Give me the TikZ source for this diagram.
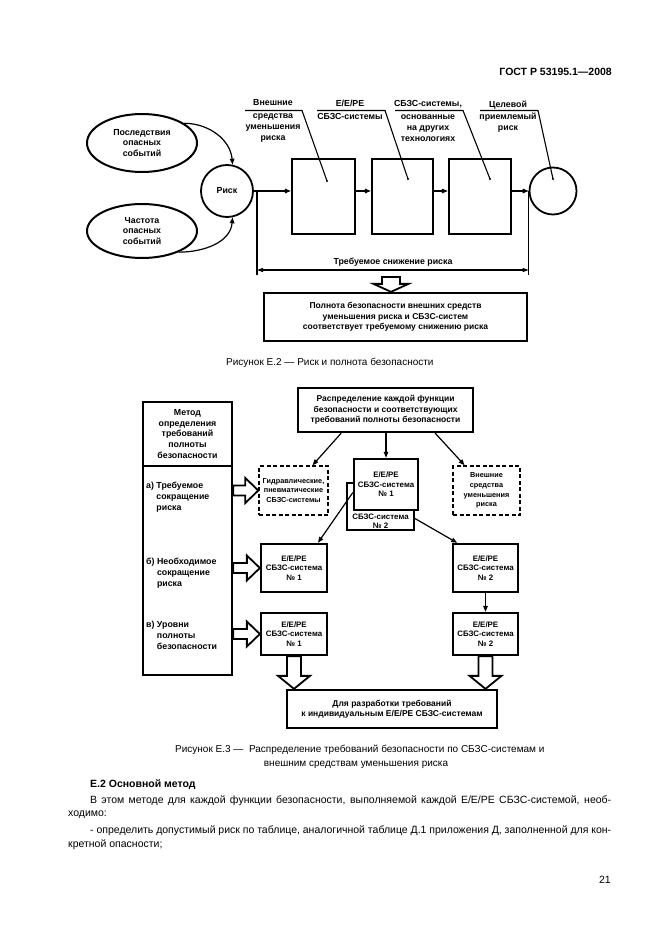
\documentclass[tikz,border=0pt]{standalone}
\usepackage{fontspec}
\setmainfont{Liberation Sans}
\usetikzlibrary{arrows.meta,shapes.geometric,calc}
\newcommand\fs[2]{\fontsize{#1}{#2}\selectfont}
\begin{document}
\begin{tikzpicture}[x=1pt,y=-1pt,
  lw/.style={line width=1.1},
  thk/.style={draw, line width=2.3},
  bx/.style={thk, inner sep=0, align=center, font=\bfseries\fs{8.5}{10.5}},
  sbx/.style={thk, inner sep=0, align=center, font=\bfseries\fs{7.9}{9.6}},
  dbx/.style={draw, line width=1.4, dash pattern=on 4pt off 2.5pt, inner sep=0, align=center, font=\bfseries\fs{7.3}{9.7}},
  lbl/.style={inner sep=0, align=center, font=\bfseries\fs{8.8}{10.8}},
  arr/.style={line width=1.2, -{Triangle[length=6pt,width=4.5pt]}},
  hollow/.style={draw, fill=white, line width=1.8, line join=miter},
  captxt/.style={inner sep=0, font=\fs{10}{12}},
  body/.style={inner sep=0, font=\fs{10.5}{13}},
  bodyb/.style={inner sep=0, font=\bfseries\fs{10.5}{13}},
]
\useasboundingbox (0,0) rectangle (661,936);
\fill[white] (0,0) rectangle (661,936);

% header
\node[bodyb, anchor=east] (hdr) at (612,72) {ГОСТ Р 53195.1—2008};

% ===== Figure E.2 =====
\node[draw, line width=2, ellipse, minimum width=110, minimum height=58, lbl] (e1) at (142,143) {Последствия\\опасных\\событий};
\node[draw, line width=2, ellipse, minimum width=110, minimum height=54, lbl] (e2) at (142,231) {Частота\\опасных\\событий};
\node[draw, circle, line width=1.8, minimum size=52, lbl] (risk) at (227,191) {Риск};
\node[thk, minimum width=63, minimum height=75] (b1) at (323.5,196.5) {};
\node[thk, minimum width=61, minimum height=75] (b2) at (402.5,196.5) {};
\node[thk, minimum width=62, minimum height=75] (b3) at (480,196.5) {};
\node[draw, circle, line width=1.8, minimum size=47] (tgt) at (553,191) {};

\draw[arr] (e1.25) to[out=0, in=95] (risk.78);
\draw[arr] (e2.-30) to[out=0, in=-95] (risk.-78);

\draw[arr] (risk.east) -- (b1.west |- risk.east);
\draw[arr] (b1.east |- risk.east) -- (b2.west |- risk.east);
\draw[arr] (b2.east |- risk.east) -- (b3.west |- risk.east);
\draw[arr] (b3.east |- tgt.west) -- (tgt.west);

% dimension line
\coordinate (dL) at (257,191);
\draw[lw] (dL) -- ++(0,84);
\draw[lw] (tgt.west) -- ++(0,84);
\draw[lw, {Triangle[length=6pt,width=4pt]}-{Triangle[length=6pt,width=4pt]}] ($(dL)+(0,79)$) -- ($(tgt.west)+(0,79)$);
\node[lbl] (trs) at (393,262) {Требуемое снижение риска};

% leader labels
\node[lbl] (l1) at (273,121) {Внешние\\[2pt]средства\\уменьшения\\риска};
\node[lbl] (l2) at (350,109.5) {E/E/PE\\[2pt]СБЗС-системы};
\node[lbl] (l3) at (428,121) {СБЗС-системы,\\[2pt]основанные\\на других\\технологиях};
\node[lbl] (l4) at (508,116.5) {Целевой\\[2pt]приемлемый\\риск};
\coordinate (u1a) at (245,110.5); \coordinate (u1b) at (302,110.5); \coordinate (p1) at (327,181);
\coordinate (u2a) at (317,110.5); \coordinate (u2b) at (385,110.5); \coordinate (p2) at (408,179);
\coordinate (u3a) at (395,110.5); \coordinate (u3b) at (463,110.5); \coordinate (p3) at (490,179);
\coordinate (u4a) at (480,110.5); \coordinate (u4b) at (538,110.5); \coordinate (p4) at (553,179);
\foreach \i in {1,2,3,4}{
  \draw[lw] (u\i a) -- (u\i b) -- (p\i);
  \fill (p\i) circle (1.2);
}

% result box
\coordinate (da) at (391,277);
\node[bx, minimum width=263, minimum height=48] (pb) at (395.5,317) {Полнота безопасности внешних средств\\уменьшения риска и СБЗС-систем\\соответствует требуемому снижению риска};
\draw[hollow] let \p1=(da |- pb.north), \p2=(da) in
  (\p1) -- (\x1-17.5pt,\y1+8pt) -- (\x1-9pt,\y1+8pt) -- (\x1-9pt,\y2) -- (\x1+9pt,\y2)
  -- (\x1+9pt,\y1+8pt) -- (\x1+17.5pt,\y1+8pt) -- cycle;

\node[captxt, anchor=west] (c2) at (226,363) {Рисунок Е.2 — Риск и полнота безопасности};

% ===== Figure E.3 =====
\node[thk, minimum width=89, minimum height=64, lbl] (lbt) at (187.5,434) {Метод\\определения\\требований\\полноты\\безопасности};
\node[thk, minimum width=89, minimum height=209] (lbb) at (187.5,570.5) {};
\node[lbl, align=left, anchor=west] (la) at (146,497) {а) Требуемое\\\phantom{а) }сокращение\\\phantom{а) }риска};
\node[lbl, align=left, anchor=west] (lbx) at (146,573) {б) Необходимое\\\phantom{б) }сокращение\\\phantom{б) }риска};
\node[lbl, align=left, anchor=west] (lc) at (146,636) {в) Уровни\\\phantom{в) }полноты\\\phantom{в) }безопасности};

\node[bx, minimum width=175, minimum height=44] (tb) at (385.5,410) {Распределение каждой функции\\безопасности и соответствующих\\требований полноты безопасности};
\node[dbx, minimum width=69, minimum height=49] (hb) at (293.5,490.5) {Гидравлические,\\пневматические\\СБЗС-системы};
\node[draw, line width=1.2, fill=white, minimum width=67, minimum height=47, inner sep=0] (f2) at (380.5,506.5) {};
\node[inner sep=1.5, anchor=south, align=center, font=\bfseries\fs{7.9}{9.2}] (f2t) at (f2.south) {СБЗС-система\\№ 2};
\node[sbx, fill=white, minimum width=64, minimum height=51] (f1) at (386,484.5) {E/E/PE\\СБЗС-система\\№ 1};
\node[dbx, minimum width=67, minimum height=49] (eb) at (486.5,490.5) {Внешние\\средства\\уменьшения\\риска};

\draw[arr] ($(tb.south west)!0.25!(tb.south east)$) -- ($(hb.north west)!0.77!(hb.north east)$);
\draw[arr] (tb.south -| f1.north) -- (f1.north);
\draw[arr] ($(tb.south west)!0.78!(tb.south east)$) -- ($(eb.north west)!0.18!(eb.north east)$);

\node[sbx, minimum width=66, minimum height=48] (r1) at (294,568) {E/E/PE\\СБЗС-система\\№ 1};
\node[sbx, minimum width=65, minimum height=48] (r2) at (485.5,568) {E/E/PE\\СБЗС-система\\№ 2};
\node[sbx, minimum width=66, minimum height=42] (s1) at (294,634) {E/E/PE\\СБЗС-система\\№ 1};
\node[sbx, minimum width=65, minimum height=42] (s2) at (485.5,634) {E/E/PE\\СБЗС-система\\№ 2};

\draw[arr] ($(f1.north west)!0.65!(f1.south west)$) -- ($(r1.north west)!0.85!(r1.north east)$);
\draw[arr] ($(f2.north east)!0.745!(f2.south east)$) -- ($(r2.north west)!0.08!(r2.north east)$);
\draw[arr] (r2.south) -- (s2.north);

% hollow right arrows
\foreach \t in {hb,r1,s1}{
  \draw[hollow] let \p1=(\t.west), \p2=(lbb.east) in
    (\p1) -- (\x1-13pt,\y1+12.5pt) -- (\x1-13pt,\y1+5pt) -- (\x2,\y1+5pt) -- (\x2,\y1-5pt)
    -- (\x1-13pt,\y1-5pt) -- (\x1-13pt,\y1-12.5pt) -- cycle;
}

\node[bx, minimum width=210, minimum height=38] (bb) at (392,709) {Для разработки требований\\к индивидуальным E/E/PE СБЗС-системам};
\foreach \s in {s1,s2}{
  \draw[hollow] let \p1=(\s.south |- bb.north), \p2=(\s.south) in
    (\p1) -- (\x1-16pt,\y1+13pt) -- (\x1-7pt,\y1+13pt) -- (\x1-7pt,\y2) -- (\x1+7pt,\y2)
    -- (\x1+7pt,\y1+13pt) -- (\x1+16pt,\y1+13pt) -- cycle;
}

\node[captxt, anchor=west] (c3a) at (175,750) {Рисунок Е.3 —\ \ Распределение требований безопасности по СБЗС-системам и};
\node[captxt] (c3b) at (356,765) {внешним средствам уменьшения риска};

% ===== body text =====
\node[bodyb, anchor=west] (t0) at (90,785) {Е.2 Основной метод};
\node[body, anchor=west] (t1) at (90,801) {\makebox[521pt][s]{В этом методе для каждой функции безопасности, выполняемой каждой E/E/PE СБЗС-системой, необ-}};
\node[body, anchor=west] (t2) at (68,815) {ходимо:};
\node[body, anchor=west] (t3) at (90,831) {\makebox[521pt][s]{- определить допустимый риск по таблице, аналогичной таблице Д.1 приложения Д, заполненной для кон-}};
\node[body, anchor=west] (t4) at (68,845) {кретной опасности;};
\node[body, anchor=east] (pg) at (611,880) {21};
\end{tikzpicture}
\end{document}
